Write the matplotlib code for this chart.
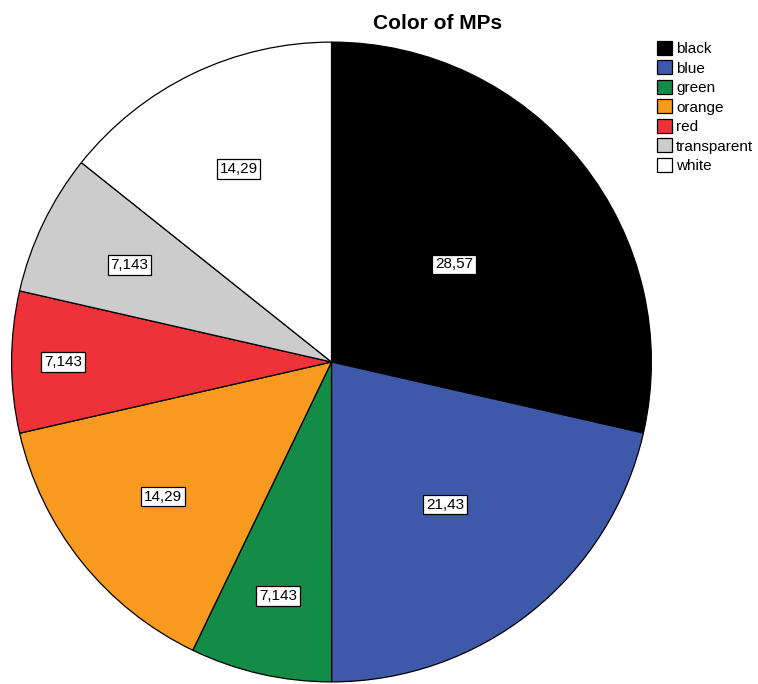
import matplotlib
matplotlib.use("Agg")
import matplotlib.pyplot as plt
import numpy as np

CATEGORIES = ["black", "blue", "green", "orange", "red", "transparent", "white"]
PERCENTS = [28.57, 21.43, 7.143, 14.29, 7.143, 7.143, 14.29]
LABELS = ["28,57", "21,43", "7,143", "14,29", "7,143", "7,143", "14,29"]
COLORS = ["#000000", "#3e58aa", "#128c46", "#f89a20", "#ee3239", "#cccccc", "#ffffff"]
# radial placement of the value boxes (fraction of radius)
LABEL_R = [0.49, 0.57, 0.75, 0.675, 0.84, 0.70, 0.67]

plt.rcParams["font.family"] = ["Liberation Sans", "DejaVu Sans"]

fig = plt.figure(figsize=(7.58, 6.84), dpi=100)
W, H = 758, 684
cx, cy, r = 331.5, 362, 321.5
ax = fig.add_axes([(cx - r) / W, (H - cy - r) / H, 2 * r / W, 2 * r / H])

wedges, _ = ax.pie(PERCENTS, colors=COLORS, startangle=90, counterclock=False,
                   radius=1, wedgeprops=dict(edgecolor="black", linewidth=0.9))
ax.set_xlim(-1.005, 1.005)
ax.set_ylim(-1.005, 1.005)
ax.set_aspect("equal")
ax.axis("off")

start = 90.0
for w, pct, lab, lr in zip(wedges, PERCENTS, LABELS, LABEL_R):
    span = pct / sum(PERCENTS) * 360
    mid = np.deg2rad(start - span / 2)
    start -= span
    ax.text(lr * np.cos(mid), lr * np.sin(mid), lab, ha="center", va="center",
            fontsize=11, color="black",
            bbox=dict(boxstyle="square,pad=0.18", fc="white", ec="black", lw=0.9))

fig.text(437.5 / W, 1 - 29 / H, "Color of MPs", ha="center", va="baseline",
         fontsize=15, fontweight="bold")

fig.legend(wedges, CATEGORIES, loc="upper left", bbox_to_anchor=(657 / W, 1 - 41 / H),
           frameon=False, fontsize=11, handlelength=1.0, handleheight=1.0,
           handletextpad=0.25, labelspacing=0.29, borderpad=0, borderaxespad=0)

fig.savefig("out.png", dpi=100)
